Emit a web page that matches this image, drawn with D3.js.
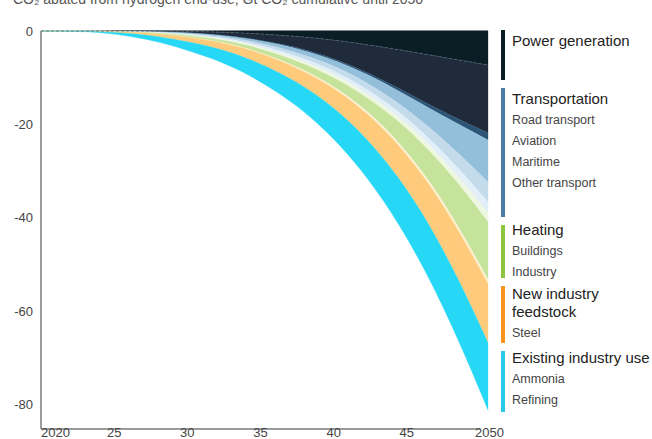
<!DOCTYPE html>
<html>
<head>
<meta charset="utf-8">
<script src="https://cdn.jsdelivr.net/npm/d3@7/dist/d3.min.js"></script>
<style>
  html, body { margin: 0; padding: 0; background: #fff; }
  svg { display: block; font-family: "Liberation Sans", Arial, Helvetica, sans-serif; }
</style>
</head>
<body>
<svg id="chart" width="652" height="439"></svg>
<script>
// Cumulative CO2 abated from hydrogen end-use (Gt CO2), by end-use segment
const years = [2020, 2022, 2024, 2026, 2028, 2030, 2032, 2034, 2036, 2038, 2040, 2042, 2044, 2046, 2048, 2050];

const powerGeneration = [0, 0, 0, 0.01, 0.03, 0.1, 0.25, 0.5, 0.9, 1.4, 2.1, 3.0, 4.0, 5.1, 6.2, 7.3];
const roadTransport   = [0, 0, 0.01, 0.04, 0.12, 0.3, 0.6, 1.1, 1.85, 2.9, 4.3, 6.1, 8.3, 10.6, 12.7, 14.6];
const roadTransportH2 = [0, 0, 0, 0.01, 0.02, 0.04, 0.07, 0.11, 0.17, 0.24, 0.32, 0.42, 0.55, 0.75, 1.05, 1.5];
const aviation        = [0, 0, 0.01, 0.03, 0.08, 0.16, 0.28, 0.45, 0.7, 1.0, 1.35, 1.9, 2.7, 4.1, 6.3, 9.0];
const maritime        = [0, 0, 0.01, 0.03, 0.08, 0.15, 0.26, 0.42, 0.62, 0.85, 1.1, 1.4, 1.8, 2.4, 3.2, 4.3];
const otherTransport  = [0, 0, 0.01, 0.03, 0.07, 0.13, 0.22, 0.34, 0.48, 0.64, 0.8, 0.95, 1.12, 1.4, 1.85, 2.4];
const buildings       = [0, 0, 0.01, 0.03, 0.07, 0.13, 0.2, 0.3, 0.42, 0.56, 0.7, 0.85, 1.0, 1.2, 1.5, 1.9];
const industryHeat    = [0, 0, 0.02, 0.07, 0.18, 0.33, 0.5, 0.72, 1.02, 1.42, 2.05, 3.0, 4.5, 6.5, 9.2, 12.4];
const steelDri        = [0, 0, 0.01, 0.02, 0.04, 0.07, 0.1, 0.15, 0.21, 0.3, 0.4, 0.52, 0.64, 0.75, 0.84, 0.9];
const steel           = [0, 0.01, 0.08, 0.28, 0.6, 1.0, 1.45, 2.0, 2.65, 3.4, 4.4, 5.6, 7.0, 8.6, 10.5, 12.6];
const ammoniaRefining = [0, 0.04, 0.24, 0.62, 1.2, 1.95, 2.67, 3.51, 4.47, 5.6, 6.9, 8.35, 9.9, 11.5, 13.0, 14.45];

const seriesKeys = ["powerGeneration", "roadTransport", "roadTransportH2", "aviation", "maritime",
  "otherTransport", "buildings", "industryHeat", "steelDri", "steel", "ammoniaRefining"];
const seriesValues = [powerGeneration, roadTransport, roadTransportH2, aviation, maritime,
  otherTransport, buildings, industryHeat, steelDri, steel, ammoniaRefining];
const seriesColors = ["#0b1e25", "#1f2b3a", "#2c5476", "#93bfdb", "#c4dbec",
  "#e2eef8", "#eef7df", "#c6e39c", "#fdf0d0", "#fdcb7b", "#27d8f6"];

const yTicks = [0, -20, -40, -60, -80];
const xTicks = [2020, 2025, 2030, 2035, 2040, 2045, 2050];
const xTickLabels = ["2020", "25", "30", "35", "40", "45", "2050"];

const legendTitles = [["Power generation"], ["Transportation"], ["Heating"], ["New industry", "feedstock"], ["Existing industry use"]];
const legendItems = [[], ["Road transport", "Aviation", "Maritime", "Other transport"], ["Buildings", "Industry"], ["Steel"], ["Ammonia", "Refining"]];
const legendColors = ["#0b1e25", "#4a7ca6", "#8cc63f", "#f7941d", "#2bc9e9"];

const titleText = "CO\u2082 abated from hydrogen end-use, Gt CO\u2082 cumulative until 2050";

// ---- layout ----
const svg = d3.select("#chart");
const plotLeft = 41, plotRight = 488, axisRight = 480;
const yTop = 31, yBottom = 429, yMin = -85.4;
const legendHeaderY = [46, 104, 235, 299, 363];
const legendBars = [[30, 80], [88, 217], [225, 278], [286, 343], [351, 412]];

const x = d3.scaleLinear().domain([2020, 2050]).range([plotLeft, plotRight]);
const xTickScale = d3.scaleLinear().domain([2020, 2050]).range([plotLeft, axisRight]);
const y = d3.scaleLinear().domain([0, yMin]).range([yTop, yBottom]);

// title (runs off the top edge)
svg.append("text")
  .attr("x", 13).attr("y", 4)
  .attr("font-size", 14).attr("fill", "#555")
  .text(titleText);

// zero line under the stack
svg.append("line")
  .attr("x1", plotLeft).attr("x2", plotRight)
  .attr("y1", y(0)).attr("y2", y(0))
  .attr("stroke", "#7a7a7a").attr("stroke-width", 1.5);

// stacked areas
const table = years.map((yr, i) => {
  const row = { year: yr };
  seriesKeys.forEach((k, j) => { row[k] = seriesValues[j][i]; });
  return row;
});
const stacked = d3.stack().keys(seriesKeys)(table);

const area = d3.area()
  .x(d => x(d.data.year))
  .y0(d => y(-d[0]))
  .y1(d => y(-d[1]))
  .curve(d3.curveMonotoneX);

svg.append("g").selectAll("path")
  .data(stacked)
  .join("path")
  .attr("d", area)
  .attr("fill", (d, i) => seriesColors[i])
  .attr("stroke", (d, i) => seriesColors[i])
  .attr("stroke-width", 0.3);

// dashed divider below power generation
svg.append("path")
  .datum(stacked[0])
  .attr("d", d3.line().x(d => x(d.data.year)).y(d => y(-d[1])).curve(d3.curveMonotoneX))
  .attr("fill", "none")
  .attr("stroke", "#50677a")
  .attr("stroke-width", 0.8)
  .attr("stroke-dasharray", "3,2");

// axes
const axisColor = "#7a7a7a";
svg.append("line")
  .attr("x1", plotLeft).attr("x2", plotLeft)
  .attr("y1", y(0)).attr("y2", yBottom)
  .attr("stroke", axisColor).attr("stroke-width", 1.5);
svg.append("line")
  .attr("x1", plotLeft).attr("x2", axisRight)
  .attr("y1", yBottom).attr("y2", yBottom)
  .attr("stroke", axisColor).attr("stroke-width", 1.5);

svg.append("g").selectAll("text")
  .data(yTicks)
  .join("text")
  .attr("x", 33)
  .attr("y", d => y(d) + 5)
  .attr("text-anchor", "end")
  .attr("font-size", 13)
  .attr("fill", "#444")
  .text(d => d);

const lastTick = xTicks.length - 1;
svg.append("g").selectAll("text")
  .data(xTicks)
  .join("text")
  .attr("x", (d, i) => i === lastTick ? xTickScale(d) - 5 : xTickScale(d))
  .attr("y", 437)
  .attr("text-anchor", (d, i) => (i === 0 || i === lastTick) ? "start" : "middle")
  .attr("font-size", 13)
  .attr("fill", "#444")
  .text((d, i) => xTickLabels[i]);

// legend
const lg = svg.append("g");
legendTitles.forEach((lines, gi) => {
  lg.append("rect")
    .attr("x", 501).attr("y", legendBars[gi][0])
    .attr("width", 4).attr("height", legendBars[gi][1] - legendBars[gi][0])
    .attr("fill", legendColors[gi]);
  let yy = legendHeaderY[gi];
  lines.forEach((t, li) => {
    lg.append("text")
      .attr("x", 512).attr("y", yy + li * 18)
      .attr("font-size", 15).attr("fill", "#222")
      .text(t);
  });
  yy += (lines.length - 1) * 18 + 20;
  legendItems[gi].forEach((t, ii) => {
    lg.append("text")
      .attr("x", 512).attr("y", yy + ii * 21)
      .attr("font-size", 12.5).attr("fill", "#444")
      .text(t);
  });
});
</script>
</body>
</html>
